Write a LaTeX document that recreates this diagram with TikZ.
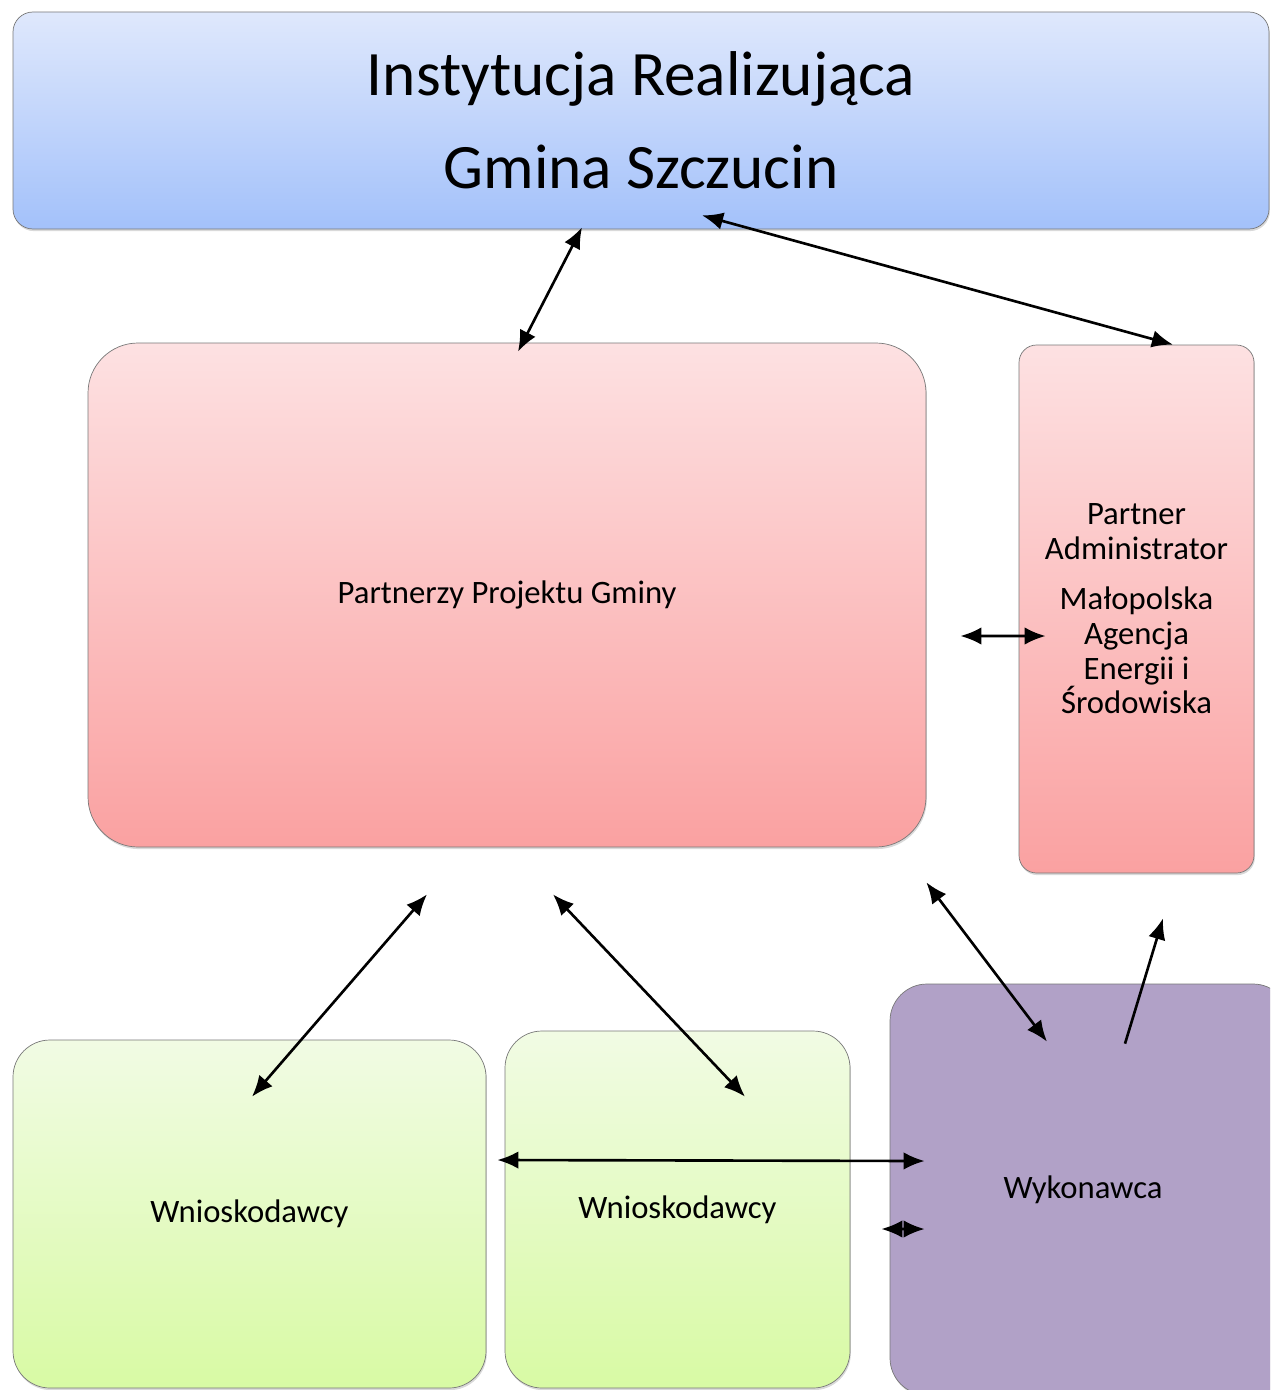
\documentclass[tikz,border=0pt]{standalone}
\usepackage{fontspec}
\setmainfont{Carlito}
\usetikzlibrary{arrows.meta,
                  positioning,
                  shadows}
\definecolor{instTop}{RGB}{223,232,252}
\definecolor{instBot}{RGB}{163,193,250}
\definecolor{partTop}{RGB}{253,225,226}
\definecolor{partBot}{RGB}{250,161,161}
\definecolor{applTop}{RGB}{241,251,228}
\definecolor{applBot}{RGB}{216,250,164}
\definecolor{contFill}{RGB}{177,161,199}
\definecolor{frame}{RGB}{120,120,120}

\begin{document}
\begin{tikzpicture}[every node/.style={font=\fontsize{18.6}{19.8}\selectfont}]
    \tikzset{
    shade/.style={drop shadow={shadow xshift=0.5pt, shadow yshift=-1.2pt, opacity=0.3}},
    topblock/.style={draw=frame, shape=rectangle, rounded corners=0.4cm, align=center, minimum width=25.12cm, minimum height=4.34cm, top color=instTop, bottom color=instBot, shade, font=\fontsize{36}{53}\selectfont},
    pblock/.style={draw=frame, rectangle, align=center, top color=partTop, bottom color=partBot, shade},
    gblock/.style={draw=frame, rectangle, rounded corners=0.74cm, align=center, minimum width=9.46cm, top color=applTop, bottom color=applBot, shade},
    vblock/.style={draw=frame, rectangle, rounded corners=0.74cm, align=center, minimum width=8cm, minimum height=8.22cm, fill=contFill, shade},
    line/.style = {draw, line width=1.5pt, >={Latex[length=12pt, width=10pt]}, <->},
    oneway/.style = {line, ->}
}
\useasboundingbox (0,0) rectangle (25.4,-27.8);
\clip (0,0) rectangle (25.4,-27.8);

\node [topblock] (inst) at (12.82,-2.41) {Instytucja Realizująca\\Gmina Szczucin};
\node [pblock, rounded corners=1cm, minimum width=16.76cm, minimum height=10.08cm, below of=inst, node distance=9.49cm, xshift=-2.68cm] (partners) {Partnerzy Projektu Gminy};
\node [pblock, rounded corners=0.35cm, minimum width=4.7cm, minimum height=10.56cm, right of=partners, node distance=12.59cm, yshift=-0.28cm] (admin) {Partner\\Administrator\\[8.5pt]Małopolska\\Agencja\\Energii i\\Środowiska};
\node [gblock, minimum height=6.96cm, below of=partners, node distance=12.38cm, xshift=-5.15cm] (appl1) {Wnioskodawcy};
\node [gblock, minimum width=6.9cm, minimum height=7.14cm, right of=appl1, node distance=8.56cm, yshift=0.09cm] (appl2) {Wnioskodawcy};
\node [vblock, right of=appl2, node distance=8.25cm, yshift=0.4cm] (contractor) {\hspace*{-0.28cm}Wykonawca};

\path [line] ([xshift=-1.18cm, yshift=0.04cm] inst.south) -- ([xshift=0.22cm, yshift=-0.18cm] partners.north);
\path [line] ([xshift=1.22cm, yshift=0.28cm] inst.south) -- ([xshift=0.73cm] admin.north);
\path [line] ([xshift=0.68cm, yshift=-0.82cm] partners.east) -- ([xshift=0.54cm, yshift=-0.54cm] admin.west);
\path [line] ([xshift=-1.6cm, yshift=-0.94cm] partners.south) -- ([xshift=0.05cm, yshift=-1.14cm] appl1.north);
\path [line] ([xshift=0.92cm, yshift=-0.94cm] partners.south) -- ([xshift=1.35cm, yshift=-1.32cm] appl2.north);
\path [line] ([yshift=-0.7cm] partners.south east) -- ([xshift=-0.86cm, yshift=-1.16cm] contractor.north);
\path [oneway] ([xshift=0.7cm, yshift=-1.2cm] contractor.north) -- ([xshift=0.53cm, yshift=-0.9cm] admin.south);
\path [line] ([xshift=0.22cm, yshift=1.08cm] appl1.east) -- ([xshift=0.7cm, yshift=0.57cm] contractor.west);
\path [line] ([xshift=0.62cm, yshift=-0.39cm] appl2.east) -- ([xshift=0.7cm, yshift=-0.79cm] contractor.west);

\end{tikzpicture}
\end{document}
